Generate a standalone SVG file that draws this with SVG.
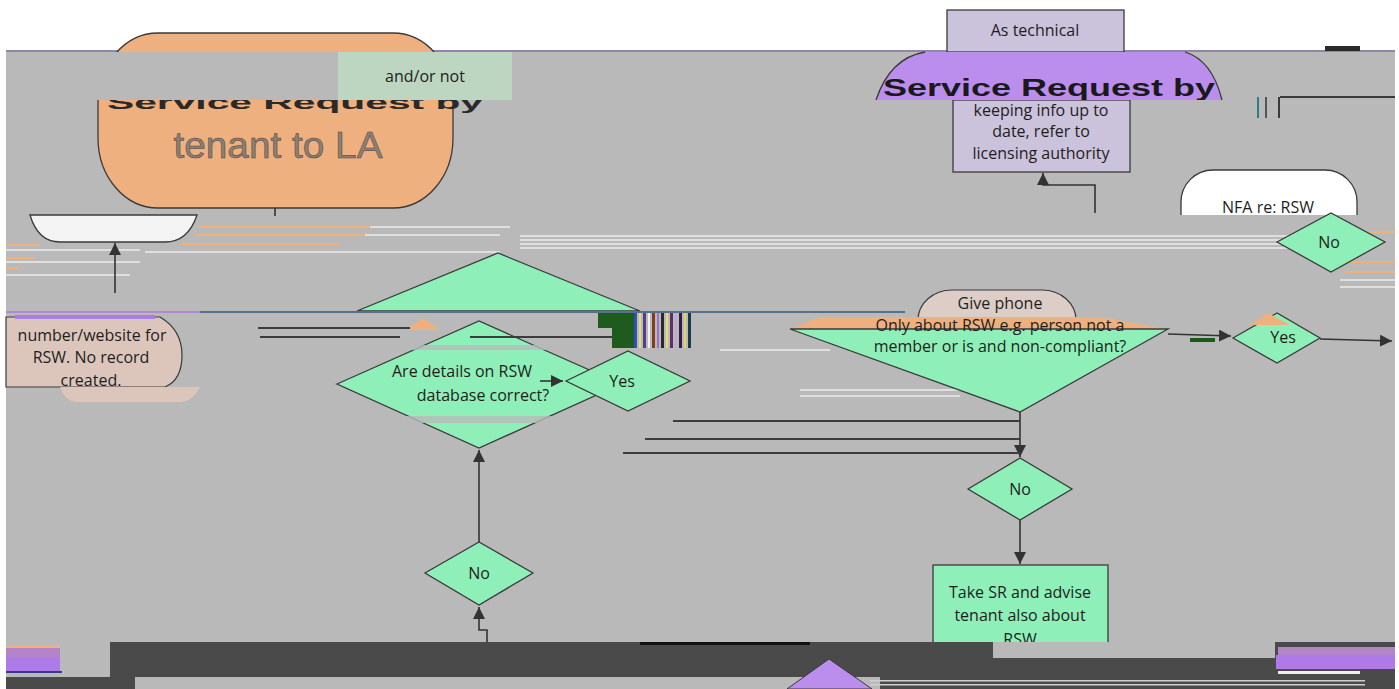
<svg xmlns="http://www.w3.org/2000/svg" width="1399" height="689" viewBox="0 0 1399 689">
<style>
.t{font-family:"Open Sans","Noto Sans","Liberation Sans",sans-serif;font-size:16px;fill:#1e1e1e;text-anchor:middle}
.dia{fill:#8ef0b8;stroke:#3a3a3a;stroke-width:1.3}
.ln{fill:none;stroke:#333;stroke-width:1.6}
.gl{stroke:#3c3c3c;stroke-width:2}
.wl{stroke:#ececec;stroke-width:1.5}
.ol{stroke:#efb07c;stroke-width:2}
</style>
<defs>
<marker id="ah" viewBox="0 0 10 10" refX="10" refY="5" markerWidth="12" markerHeight="12" markerUnits="userSpaceOnUse" orient="auto">
<path d="M0,0 L10,5 L0,10 z" fill="#333"/>
</marker>
<clipPath id="clipTop"><rect x="0" y="52" width="1399" height="48"/></clipPath>
<clipPath id="clipOr"><rect x="0" y="100" width="1399" height="13"/></clipPath>
<clipPath id="clipLav"><rect x="953" y="100" width="180" height="72"/></clipPath>
<clipPath id="clipNfa"><rect x="1170" y="160" width="200" height="55"/></clipPath>
<clipPath id="clipSR"><rect x="930" y="560" width="180" height="83"/></clipPath>
</defs>

<rect x="0" y="0" width="1399" height="689" fill="#ffffff"/>
<rect x="6" y="52" width="1389" height="637" fill="#b9b9b9"/>

<!-- background glitch stripes -->
<g id="glitch-back">
<line class="wl" x1="520" y1="236" x2="1290" y2="236"/>
<line class="wl" x1="520" y1="240" x2="1290" y2="240"/>
<line class="wl" x1="520" y1="244" x2="1290" y2="244"/>
<line class="wl" x1="520" y1="248" x2="1290" y2="248"/>
<line class="ol" x1="200" y1="227" x2="370" y2="227"/>
<line class="ol" x1="195" y1="235" x2="365" y2="235"/>
<line class="ol" x1="180" y1="244" x2="340" y2="244"/>
<line class="ol" x1="6" y1="245" x2="40" y2="245"/>
<line class="ol" x1="6" y1="258" x2="35" y2="258"/>
<line class="ol" x1="6" y1="268" x2="18" y2="268"/>
<line class="wl" x1="370" y1="227" x2="510" y2="227"/>
<line class="wl" x1="365" y1="235" x2="500" y2="235"/>
<line class="wl" x1="145" y1="252" x2="500" y2="252"/>
<line class="wl" x1="6" y1="250" x2="140" y2="250"/>
<line class="wl" x1="6" y1="262" x2="140" y2="262"/>
<line class="wl" x1="6" y1="275" x2="130" y2="275"/>
<line class="ol" x1="1345" y1="232" x2="1395" y2="232"/>
<line class="ol" x1="1350" y1="262" x2="1395" y2="262"/>
<line class="ol" x1="1345" y1="272" x2="1395" y2="272"/>
<line class="wl" x1="1340" y1="280" x2="1395" y2="280"/>
<line class="wl" x1="1340" y1="287" x2="1395" y2="287"/>
<line class="wl" x1="800" y1="390" x2="960" y2="390"/>
<line class="wl" x1="800" y1="396" x2="960" y2="396"/>
<line class="wl" x1="720" y1="350" x2="830" y2="350"/>
<rect x="6" y="50" width="1389" height="2" fill="#8f86a8"/>
<rect x="1325" y="46" width="35" height="5" fill="#2a2a2a"/>
</g>

<g id="n-tenant">
<rect x="98" y="33" width="355" height="175" rx="60" ry="70" fill="#efb07f" stroke="#3a3a3a" stroke-width="1.3"/>
<text x="278" y="158" font-family="Liberation Sans, Arial, sans-serif" font-size="36" fill="#8f7f73" stroke="#444" stroke-width="0.5" text-anchor="middle" textLength="209" lengthAdjust="spacingAndGlyphs">tenant to LA</text>
</g>
<rect x="6" y="52" width="332" height="48" fill="#b9b9b9"/>
<text x="107" y="109" clip-path="url(#clipOr)" font-family="Liberation Sans, Arial, sans-serif" font-size="18" font-weight="bold" fill="#2a2a2a" textLength="376" lengthAdjust="spacingAndGlyphs">Service Request by</text>

<g id="n-andor">
<rect x="338" y="52" width="174" height="48" fill="#bcd6c2"/>
<text class="t" x="425" y="82">and/or not</text>
</g>

<g id="n-tech">
<rect x="947" y="10" width="177" height="42" fill="#cbc2dc" stroke="#3a3a3a" stroke-width="1.3"/>
<text class="t" x="1035" y="36">As technical</text>
<rect x="953" y="100" width="177" height="72" fill="#cbc2dc" stroke="#3a3a3a" stroke-width="1.3"/>
<g clip-path="url(#clipLav)">
<text class="t" x="1041" y="116" font-size="14.5">keeping info up to</text>
<text class="t" x="1041" y="137" font-size="15.5">date, refer to</text>
<text class="t" x="1041" y="159" font-size="15.5">licensing authority</text>
</g>
</g>

<g id="n-service">
<path d="M876,100 Q890,58 925,52 L1185,52 Q1212,60 1222,100 Z" fill="#bb8eee"/>
<path d="M876,100 Q890,58 925,52" fill="none" stroke="#3a3a3a" stroke-width="1.3"/>
<path d="M1185,52 Q1212,60 1222,100" fill="none" stroke="#3a3a3a" stroke-width="1.3"/>
<text x="883" y="96" clip-path="url(#clipTop)" font-family="Liberation Sans, Arial, sans-serif" font-size="23" font-weight="bold" fill="#1a1a1a" textLength="332" lengthAdjust="spacingAndGlyphs">Service Request by</text>
</g>
<g id="glitch-tr">
<rect x="1257" y="97" width="2" height="21" fill="#2a8080"/>
<rect x="1265" y="97" width="2" height="21" fill="#555"/>
<rect x="1278" y="97" width="2" height="21" fill="#3a3a3a"/>
<rect x="1280" y="96" width="115" height="2" fill="#3a3a3a"/>
</g>

<g id="n-nfa">
<rect x="1181" y="170" width="176" height="80" rx="32" fill="#ffffff" stroke="#3a3a3a" stroke-width="1.3" clip-path="url(#clipNfa)"/>
<text class="t" x="1268" y="213" clip-path="url(#clipNfa)">NFA re: RSW</text>
</g>

<g id="n-white">
<path d="M30,215 L197,215 Q188,242 165,242 L60,242 Q38,242 30,215 Z" fill="#f4f4f4" stroke="#3a3a3a" stroke-width="1.3"/>
</g>

<g id="n-no-top">
<polygon class="dia" points="1277,242 1331,213 1385,242 1331,272"/>
<text class="t" x="1329" y="248">No</text>
</g>

<g id="n-number">
<path d="M6,317 L160,317 Q182,330 182,355 Q182,380 165,387 L6,387 Z" fill="#dcc6bc" stroke="#3a3a3a" stroke-width="1.2"/>
<path d="M60,387 L200,387 Q192,402 180,402 L75,402 Q64,400 60,387 Z" fill="#dcc6bc"/>
<rect x="15" y="315" width="140" height="4" fill="#a87ee0"/>
<text class="t" x="92" y="341" font-size="16.5">number/website for</text>
<text class="t" x="91" y="363" font-size="16.5">RSW. No record</text>
<text class="t" x="91" y="386" font-size="16.5">created.</text>
</g>

<g id="n-bigdiamond">
<polygon class="dia" points="357,311 498,253 640,311"/>
</g>

<g id="n-details">
<polygon class="dia" points="337,384 479,321 621,384 479,448"/>
<polygon points="405,330 423,318 440,330" fill="#efb07f"/>
<rect x="350" y="345" width="260" height="5" fill="#b9b9b9" opacity="0.8"/>
<rect x="400" y="416" width="160" height="7" fill="#b9b9b9" opacity="0.8"/>
<text class="t" x="462" y="377">Are details on RSW</text>
<text class="t" x="483" y="401">database correct?</text>
</g>

<g id="n-yes-mid">
<polygon class="dia" points="566,381 628,351 690,381 628,411"/>
<text class="t" x="622" y="387">Yes</text>
</g>

<g id="n-no-left">
<polygon class="dia" points="425,573 479,542 533,573 479,605"/>
<text class="t" x="479" y="579">No</text>
</g>

<g id="n-give">
<rect x="918" y="290" width="158" height="60" rx="34" fill="#dccdc6" stroke="#3a3a3a" stroke-width="1.2"/>
<text class="t" x="1000" y="309" font-size="15">Give phone</text>
</g>

<g id="n-only">
<polygon points="820,317 1100,317 1168,329 790,329" fill="#efb07f"/>
<polygon class="dia" points="790,329 1168,329 1020,412"/>
<text class="t" x="1000" y="331">Only about RSW e.g. person not a</text>
<text class="t" x="1000" y="352">member or is and non-compliant?</text>
</g>

<g id="n-yes-right">
<polygon class="dia" points="1233,338 1277,313 1320,338 1277,363"/>
<polygon points="1250,325 1268,313 1290,325" fill="#efb07f"/>
<text class="t" x="1283" y="343">Yes</text>
</g>

<g id="n-no-right">
<polygon class="dia" points="968,489 1020,458 1072,489 1020,520"/>
<text class="t" x="1020" y="495">No</text>
</g>

<g id="n-takesr">
<rect x="933" y="565" width="175" height="90" fill="#8ef0b8" stroke="#3a3a3a" stroke-width="1.3" clip-path="url(#clipSR)"/>
<g clip-path="url(#clipSR)">
<text class="t" x="1020" y="598">Take SR and advise</text>
<text class="t" x="1020" y="621">tenant also about</text>
<text class="t" x="1020" y="645">RSW</text>
</g>
</g>

<g id="connectors">
<line class="ln" x1="275" y1="208" x2="275" y2="216"/>
<line class="ln" x1="115" y1="293" x2="115" y2="243" marker-end="url(#ah)"/>
<line class="ln" x1="540" y1="381" x2="563" y2="381" marker-end="url(#ah)"/>
<line class="ln" x1="479" y1="542" x2="479" y2="450" marker-end="url(#ah)"/>
<polyline class="ln" points="487,643 487,630 479,630 479,607" marker-end="url(#ah)"/>
<line class="ln" x1="1168" y1="334" x2="1231" y2="336" marker-end="url(#ah)"/>
<line class="ln" x1="1320" y1="339" x2="1392" y2="341" marker-end="url(#ah)"/>
<line class="ln" x1="1020" y1="412" x2="1020" y2="457" marker-end="url(#ah)"/>
<line class="ln" x1="1020" y1="520" x2="1020" y2="564" marker-end="url(#ah)"/>
<polyline class="ln" points="1095,213 1095,185 1043,185 1043,173" marker-end="url(#ah)"/>
<line class="gl" x1="673" y1="421" x2="1020" y2="421"/>
<line class="gl" x1="645" y1="439" x2="1020" y2="439"/>
<line class="gl" x1="623" y1="453" x2="1020" y2="453"/>
<line class="gl" x1="258" y1="328" x2="410" y2="328"/>
<line class="gl" x1="260" y1="337" x2="400" y2="337"/>
<line class="gl" x1="470" y1="337" x2="612" y2="337"/>
<line x1="200" y1="312" x2="905" y2="312" stroke="#5a6f8a" stroke-width="2"/>
<line x1="6" y1="312" x2="200" y2="312" stroke="#b08ad8" stroke-width="2"/>
<line x1="1190" y1="340" x2="1215" y2="340" stroke="#1a5a1a" stroke-width="4"/>
</g>

<g id="glitch-barcode">
<rect x="598" y="313" width="14" height="15" fill="#1f5a1f"/>
<rect x="612" y="313" width="22" height="35" fill="#1f5a1f"/>
<rect x="634" y="313" width="3" height="35" fill="#3050c0"/>
<rect x="639" y="313" width="2" height="35" fill="#e0e070"/>
<rect x="643" y="313" width="3" height="35" fill="#5a3a8a"/>
<rect x="648" y="313" width="2" height="35" fill="#f0f0f0"/>
<rect x="652" y="313" width="3" height="35" fill="#804020"/>
<rect x="657" y="313" width="2" height="35" fill="#9a70d0"/>
<rect x="661" y="313" width="3" height="35" fill="#2a2a2a"/>
<rect x="666" y="313" width="2" height="35" fill="#e0e070"/>
<rect x="670" y="313" width="3" height="35" fill="#6a2a6a"/>
<rect x="675" y="313" width="2" height="35" fill="#b0b0d0"/>
<rect x="679" y="313" width="3" height="35" fill="#3a1a4a"/>
<rect x="684" y="313" width="2" height="35" fill="#d8d860"/>
<rect x="688" y="313" width="3" height="35" fill="#1a3a4a"/>
</g>

<g id="bottom">
<rect x="110" y="642" width="1285" height="36" fill="#4a4a4a"/>
<rect x="993" y="642" width="282" height="16" fill="#b9b9b9"/>
<rect x="6" y="677" width="1389" height="12" fill="#4a4a4a"/>
<rect x="135" y="677" width="745" height="12" fill="#b9b9b9"/>
<rect x="640" y="642" width="170" height="3" fill="#111"/>
<polygon points="829,659 787,689 872,689" fill="#bb8eee" stroke="#3a3a3a" stroke-width="1"/>
<rect x="870" y="680" width="495" height="1.5" fill="#cfcfcf"/>
<rect x="870" y="684" width="495" height="1.5" fill="#cfcfcf"/>
<rect x="6" y="645" width="54" height="3" fill="#efb07f"/>
<rect x="6" y="648" width="54" height="9" fill="#b384c8"/>
<rect x="6" y="657" width="54" height="14" fill="#ad7ae8"/>
<rect x="6" y="671" width="56" height="2" fill="#3a3a8a"/>
<rect x="1278" y="647" width="117" height="8" fill="#b384c8"/>
<rect x="1276" y="655" width="119" height="14" fill="#ad7ae8"/>
<rect x="1278" y="671" width="82" height="3" fill="#ededed"/>
</g>
</svg>
